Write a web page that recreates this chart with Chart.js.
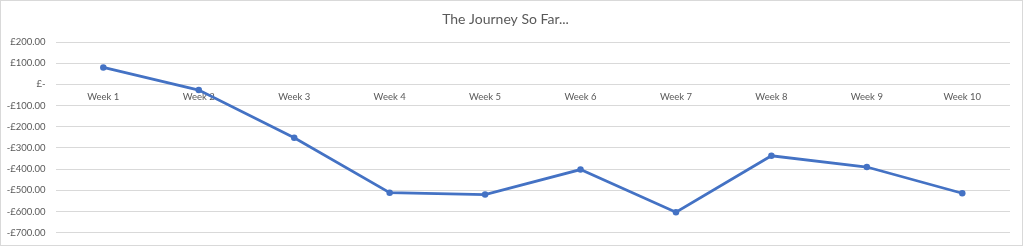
<!DOCTYPE html>
<html>
<head>
<meta charset="utf-8">
<script src="https://cdn.jsdelivr.net/npm/chart.js@4/dist/chart.umd.min.js"></script>
<style>
    body { margin: 0; background: #fff; }
    #wrap { position: relative; width: 1023px; height: 246px; box-sizing: border-box; border: 1px solid #d9d9d9; }
</style>
</head>
<body>
<div id="wrap"><canvas id="journeyChart"></canvas></div>
<script>
// Chart data
const weeks = ['Week 1', 'Week 2', 'Week 3', 'Week 4', 'Week 5', 'Week 6', 'Week 7', 'Week 8', 'Week 9', 'Week 10'];
const balance = [80, -27, -252, -511, -520, -402, -603, -337, -390, -514];
const yMin = -700;
const yMax = 200;
const yStep = 100;

// Format values like the Excel accounting format
function formatPounds(value) {
    if (value === 0) return '£-';
    return (value < 0 ? '-' : '') + '£' + Math.abs(value).toFixed(2);
}

const ctx = document.getElementById('journeyChart').getContext('2d');

const journeyChart = new Chart(ctx, {
    type: 'line',
    data: {
        labels: weeks,
        datasets: [{
            label: 'Balance',
            data: balance,
            borderColor: '#4472c4',
            backgroundColor: '#4472c4',
            borderWidth: 2.75,
            pointRadius: 3.25,
            pointBorderWidth: 0,
            tension: 0
        }]
    },
    options: {
        responsive: true,
        maintainAspectRatio: false,
        animation: false,
        layout: {
            padding: { left: 0, right: 12, top: 0, bottom: 12.3 }
        },
        scales: {
            x: {
                position: { y: 0 },
                offset: true,
                afterFit: scale => {
                    // axis sits inside the plot at zero, so it takes no room of its own
                    scale.height = 0;
                    scale.paddingLeft = 0;
                    scale.paddingRight = 0;
                },
                grid: { display: false, drawTicks: false },
                border: { display: false },
                ticks: {
                    color: '#595959',
                    padding: 7,
                    maxRotation: 0,
                    font: { family: 'Lato', size: 9.5 }
                }
            },
            y: {
                min: yMin,
                max: yMax,
                afterFit: scale => {
                    scale.width = 54.6;
                    scale.paddingTop = 0;
                    scale.paddingBottom = 0;
                },
                grid: { color: '#d9d9d9', drawTicks: false },
                border: { display: false },
                ticks: {
                    stepSize: yStep,
                    color: '#595959',
                    padding: 10,
                    font: { family: 'Lato', size: 9.5 },
                    callback: value => formatPounds(value)
                }
            }
        },
        plugins: {
            legend: { display: false },
            tooltip: { enabled: false },
            title: {
                display: true,
                text: 'The Journey So Far...',
                color: '#595959',
                font: { family: 'Lato', size: 14, weight: 'normal' },
                padding: { top: 10, bottom: 14.2 }
            }
        }
    }
});
</script>
</body>
</html>
